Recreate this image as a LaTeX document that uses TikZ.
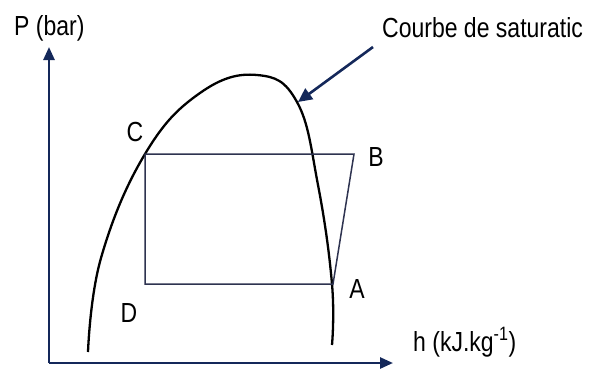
\documentclass[tikz,border=0pt]{standalone}
\usepackage{fontspec}
\setmainfont{Liberation Sans}
\usetikzlibrary{arrows.meta}
\definecolor{navy}{HTML}{14285A}
\definecolor{slate}{HTML}{2E3350}
\newcommand{\stretchtxt}[1]{\scalebox{1}[1.2]{#1}}
\tikzset{
  axis/.style={draw=navy, line width=2.6pt, -{Triangle[width=11pt,length=13pt]}},
  satcurve/.style={draw=black, line width=2.3pt},
  cycle/.style={draw=slate, line width=1.5pt, line join=miter},
  lbl/.style={inner sep=0pt, text=black, font=\fontsize{23}{27}\selectfont},
  pointer/.style={draw=navy, line width=2.6pt, -{Triangle[width=13pt,length=14pt]}}
}
\begin{document}
\begin{tikzpicture}[x=1pt,y=-1pt]
\useasboundingbox (0,0) rectangle (601,370);
% axes
\coordinate (O) at (49,363);
\coordinate (Ytip) at (49,47);
\coordinate (Xtip) at (393,363);
\draw[axis] (O) -- (Ytip);
\draw[axis] (O) -- (Xtip);
% saturation curve
\draw[satcurve] plot[smooth, tension=0.7] coordinates {
  (88,352) (101,258) (145,154) (200,93) (257,75) (297,102) (318,185) (332,284) (332,345)};
% cycle points
\coordinate (C) at (145,154);
\coordinate (B) at (354,154);
\coordinate (A) at (333,284);
\coordinate (D) at (145,284);
\draw[cycle] (C) -- (B) -- (A) -- (D) -- cycle;
% labels
\node[lbl] (lC) at (135,132) {\stretchtxt{C}};
\node[lbl] (lB) at (376,157) {\stretchtxt{B}};
\node[lbl] (lA) at (357,289) {\stretchtxt{A}};
\node[lbl] (lD) at (129,313) {\stretchtxt{D}};
\node[lbl, anchor=west] (lP) at (14,28) {\stretchtxt{P (bar)}};
\node[lbl, anchor=west] (lh) at (413,342) {\stretchtxt{h (kJ.kg\textsuperscript{-1})}};
\node[lbl, anchor=west] (lcourbe) at (382,28) {\stretchtxt{Courbe de saturatic}};
% pointer
\coordinate (ps) at (373,47);
\coordinate (pe) at (298,102);
\draw[pointer] (ps) -- (pe);
\end{tikzpicture}
\end{document}
